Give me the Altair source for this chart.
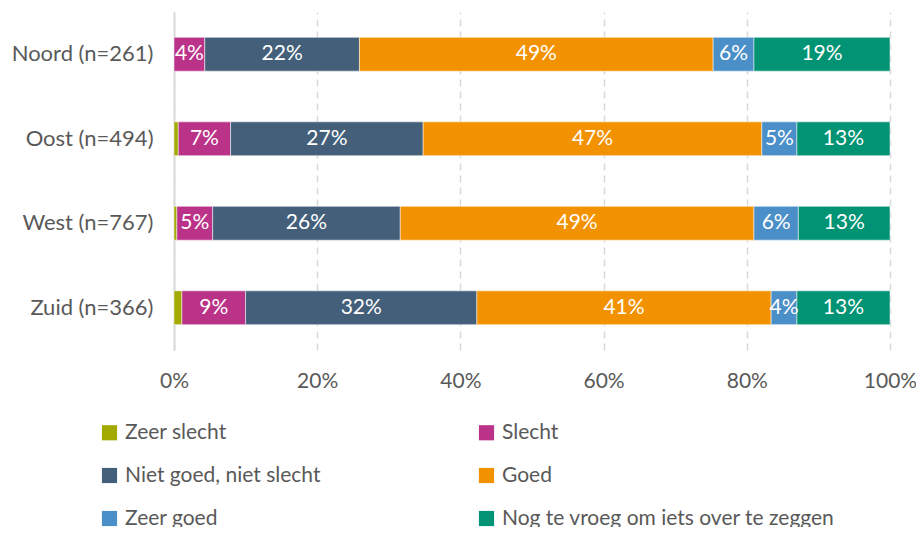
import altair as alt
import pandas as pd

regions = ["Noord (n=261)", "Oost (n=494)", "West (n=767)", "Zuid (n=366)"]
categories = ["Zeer slecht", "Slecht", "Niet goed, niet slecht", "Goed", "Zeer goed",
              "Nog te vroeg om iets over te zeggen"]
colors = ["#a2aa00", "#bb3388", "#445f7a", "#f39200", "#4b8fc8", "#009374"]

zeer_slecht = [0.0, 0.6, 0.4, 1.1]
slecht = [4.3, 7.3, 5.0, 8.9]
niet_goed = [21.6, 26.9, 26.2, 32.3]
goed = [49.4, 47.3, 49.4, 41.1]
zeer_goed = [5.7, 4.9, 6.2, 3.6]
nog_te_vroeg = [19.0, 13.0, 12.8, 13.0]

series = [zeer_slecht, slecht, niet_goed, goed, zeer_goed, nog_te_vroeg]
rows = []
for ci, (cat, vals) in enumerate(zip(categories, series)):
    for r, v in zip(regions, vals):
        rows.append({"regio": r, "categorie": cat, "volgorde": ci, "waarde": v / 100.0})
df = pd.DataFrame(rows)

FONT = "Lato"
TXT = "#595959"

base = alt.Chart(df).transform_stack(
    stack="waarde", groupby=["regio"], as_=["start", "eind"],
    sort=[alt.SortField("volgorde", order="ascending")]
)

y = alt.Y("regio:N", sort=regions, title=None,
          scale=alt.Scale(paddingInner=0.6, paddingOuter=0.3),
          axis=alt.Axis(labelFont=FONT, labelFontSize=22, labelColor=TXT, labelPadding=21,
                        ticks=False, domain=True, domainColor="#d9d9d9", domainWidth=2,
                        grid=False))

bars = base.mark_bar(stroke="white", strokeWidth=0.5).encode(
    x=alt.X("start:Q", scale=alt.Scale(domain=[0, 1], nice=False), title=None,
            axis=alt.Axis(format=".0%", values=[0, 0.2, 0.4, 0.6, 0.8, 1.0],
                          labelFont=FONT, labelFontSize=21, labelColor=TXT,
                          labelFlush=False, labelOverlap=False,
                          labelPadding=20, ticks=False, domain=False,
                          grid=True, gridColor="#d9d9d9", gridWidth=1.5,
                          gridDash=[7, 5])),
    x2="eind:Q",
    y=y,
    color=alt.Color("categorie:N", sort=categories,
                    scale=alt.Scale(domain=categories, range=colors),
                    legend=alt.Legend(title=None, orient="none", legendX=-75, legendY=410,
                                      direction="horizontal", columns=2,
                                      symbolType="square", symbolSize=230,
                                      symbolStrokeWidth=0, labelFont=FONT,
                                      labelFontSize=21, labelColor=TXT,
                                      labelOffset=5, rowPadding=21, columnPadding=155,
                                      labelLimit=450)),
)

labels = base.transform_filter(
    "datum.volgorde > 0"
).transform_calculate(
    mid="(datum.start + datum.eind) / 2"
).mark_text(font=FONT, fontSize=21, color="white", baseline="middle", align="center").encode(
    x=alt.X("mid:Q"),
    y=alt.Y("regio:N", sort=regions),
    text=alt.Text("waarde:Q", format=".0%"),
)

chart = alt.layer(bars, labels).properties(
    width=716, height=338,
    autosize=alt.AutoSizeParams(type="none"),
    padding={"left": 166, "top": 4, "right": 26, "bottom": 177},
).configure_view(stroke=None)

chart.save("out.html", embed_options={"renderer": "svg", "actions": False})
